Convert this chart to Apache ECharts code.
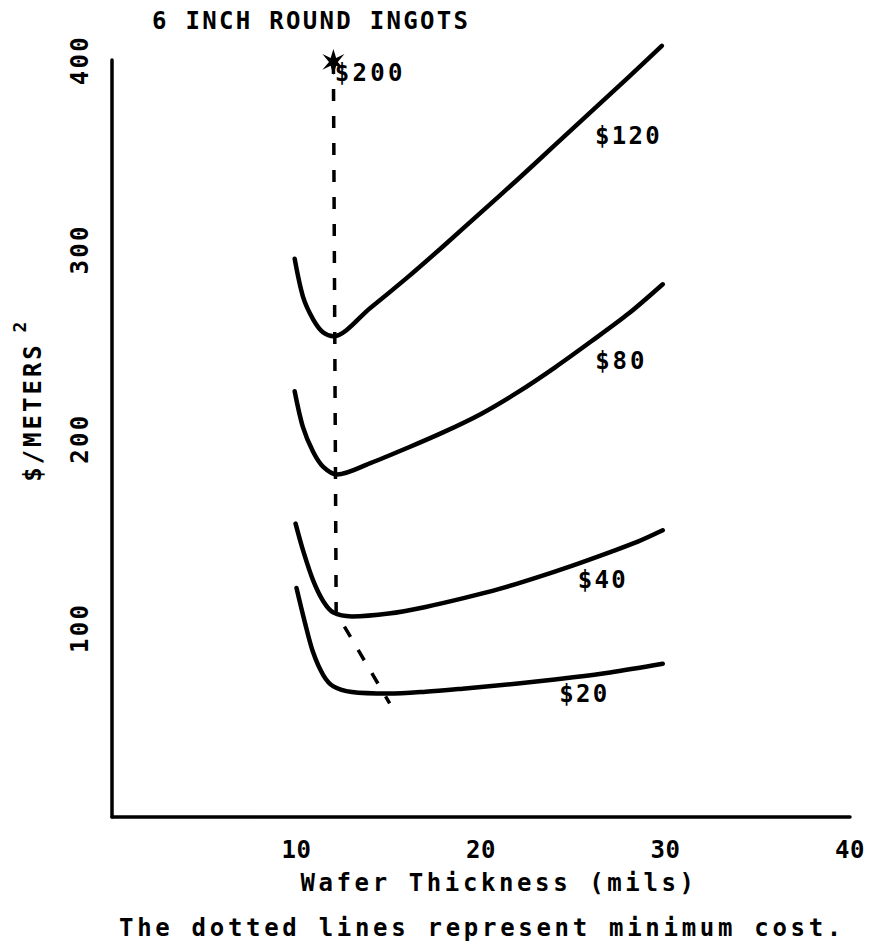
<html>
<head>
<meta charset="UTF-8">
<script src="https://cdn.jsdelivr.net/npm/echarts/dist/echarts.min.js"></script>
<style type="text/css">
body{margin:0;background:#fff;}
#chart{width:875px;height:949px;}
</style>
</head>
<body>
<div id="chart"></div>
<script type="text/javascript">
// wafer thickness (mils) and cost ($/m2), one pair of arrays per ingot price
var mils120 = [9.9, 10.35, 10.9, 11.45, 12.0, 14, 16, 18, 20, 22, 24, 26, 28, 29.8];
var cost120 = [295, 275, 263, 256, 254, 269, 285, 302, 319.5, 337, 355, 373, 391, 407.5];
var mils80 = [9.9, 10.35, 10.9, 11.45, 12.2, 14, 16, 18, 20, 22, 24, 26, 28, 29.85];
var cost80 = [225, 206, 193, 185, 181, 187, 195, 203.5, 213, 224.5, 237.5, 251.5, 266, 281.5];
var mils40 = [9.95, 10.35, 10.9, 11.45, 12.0, 13, 15, 17, 19, 21, 23, 25, 27, 28.5, 29.85];
var cost40 = [155, 141, 125, 114, 108, 106, 107.5, 111, 115.5, 120.5, 126.5, 133, 140, 145.5, 151.5];
var mils20 = [10.0, 10.45, 10.9, 11.45, 12.0, 13, 15, 17, 19, 21, 23, 25, 27, 29.85];
var cost20 = [121, 103, 87, 75, 69, 66, 65.2, 66.2, 67.8, 69.6, 71.6, 73.8, 76.4, 81];
// dotted minimum-cost line
var minMils = [12.0, 12.15, 15.05];
var minCost = [399, 108, 60];
// curve labels: thickness, cost, text
var labelMils = [14.0, 28.0, 27.6, 26.6, 25.6];
var labelCost = [393, 360, 241, 125, 65];
var labelText = ['$200', '$120', '$80', '$40', '$20'];
var xTicks = [10, 20, 30, 40];
var yTicks = [100, 200, 300, 400];

var FONT = 'DejaVu Sans Mono';
var INK = '#000';

function zip(a, b){
	var out = [];
	for(var i=0;i<a.length;i++){ out.push([a[i], b[i]]); }
	return out;
}
function curve(name, xs, ys){
	return {
		name: name, type: 'line', data: zip(xs, ys),
		smooth: 0.3, showSymbol: false, clip: false, silent: true,
		lineStyle: {color: INK, width: 4.5, cap: 'round', join: 'round', opacity: 1}
	};
}

var labelData = [];
for(var i=0;i<labelText.length;i++){ labelData.push([labelMils[i], labelCost[i], labelText[i]]); }

var dom = document.getElementById('chart');
var myChart = echarts.init(dom, null, {renderer: 'svg'});

var option = {
	animation: false,
	backgroundColor: '#fff',
	grid: {left: 112, right: 25, top: 60, bottom: 132, outerBoundsMode: 'none'},
	xAxis: {
		type: 'value', min: 0, max: 40, interval: 10,
		name: 'Wafer Thickness (mils)', nameLocation: 'middle', nameGap: 54,
		nameTextStyle: {color: INK, fontFamily: FONT, fontWeight: 'bold', fontSize: 24, padding: [0, 0, 0, 36]},
		axisLine: {show: true, lineStyle: {color: INK, width: 3.5}},
		axisTick: {show: false},
		splitLine: {show: false},
		axisLabel: {
			color: INK, fontFamily: FONT, fontWeight: 'bold', fontSize: 24, margin: 21,
			formatter: function(v){ return xTicks.indexOf(v) >= 0 ? String(v) : ''; }
		}
	},
	yAxis: {
		type: 'value', min: 0, max: 400, interval: 100,
		axisLine: {show: true, lineStyle: {color: INK, width: 3.5}},
		axisTick: {show: false},
		splitLine: {show: false},
		axisLabel: {
			color: INK, fontFamily: FONT, fontWeight: 'bold', fontSize: 24, margin: 20, rotate: 90,
			formatter: function(v){ return yTicks.indexOf(v) >= 0 ? String(v) : ''; }
		}
	},
	series: [
		curve('$120', mils120, cost120),
		curve('$80', mils80, cost80),
		curve('$40', mils40, cost40),
		curve('$20', mils20, cost20),
		{
			name: 'minimum cost', type: 'line', data: zip(minMils, minCost),
			showSymbol: false, clip: false, silent: true,
			lineStyle: {color: INK, width: 3.5, type: [12, 15], opacity: 1}
		},
		{
			name: 'star', type: 'scatter', data: [[minMils[0], minCost[0]]],
			symbol: 'path://M10,0 L12.5,7 L20,4 L14,10 L20,16 L12.5,13 L10,20 L7.5,13 L0,16 L6,10 L0,4 L7.5,7 Z',
			symbolSize: [22, 26], clip: false, silent: true,
			itemStyle: {color: INK, opacity: 1}
		},
		{
			name: 'labels', type: 'scatter', data: labelData,
			symbolSize: 0, clip: false, silent: true,
			itemStyle: {opacity: 1},
			label: {
				show: true, position: 'inside', color: INK, opacity: 1,
				textBorderWidth: 0,
				fontFamily: FONT, fontWeight: 'bold', fontSize: 24,
				formatter: function(p){ return p.value[2]; }
			}
		}
	],
	graphic: [
		{type: 'text', left: 152, top: 9, style: {text: '6 INCH ROUND INGOTS', fill: INK, font: 'bold 24px ' + FONT}},
		{type: 'text', x: 33, y: 412, rotation: Math.PI / 2,
			style: {text: '$/METERS', fill: INK, font: 'bold 24px ' + FONT, textAlign: 'center', textVerticalAlign: 'middle'}},
		{type: 'text', x: 19, y: 326, rotation: Math.PI / 2,
			style: {text: '2', fill: INK, font: 'bold 18px ' + FONT, textAlign: 'center', textVerticalAlign: 'middle'}},
		{type: 'text', x: 482, y: 928,
			style: {text: 'The dotted lines represent minimum cost.', fill: INK, font: 'bold 24px ' + FONT, textAlign: 'center', textVerticalAlign: 'middle'}}
	]
};
myChart.setOption(option);

// the typewriter lettering of the original is widely spaced
var spacing = {
	'6 INCH ROUND INGOTS': 2.3,
	'The dotted lines represent minimum cost.': 3.7,
	'Wafer Thickness (mils)': 3.6,
	'$/METERS': 3.0,
	'10': 0.5, '20': 0.5, '30': 0.5, '40': 0.5,
	'$80': 2.9, '$200': 3.3
};
function spaceText(){
	var list = dom.querySelectorAll('svg text');
	for(var i=0;i<list.length;i++){
		var s = spacing[list[i].textContent];
		list[i].setAttribute('letter-spacing', (s == null ? 2.3 : s) + 'px');
	}
}
myChart.on('finished', spaceText);
setTimeout(spaceText, 200);
</script>
</body>
</html>
